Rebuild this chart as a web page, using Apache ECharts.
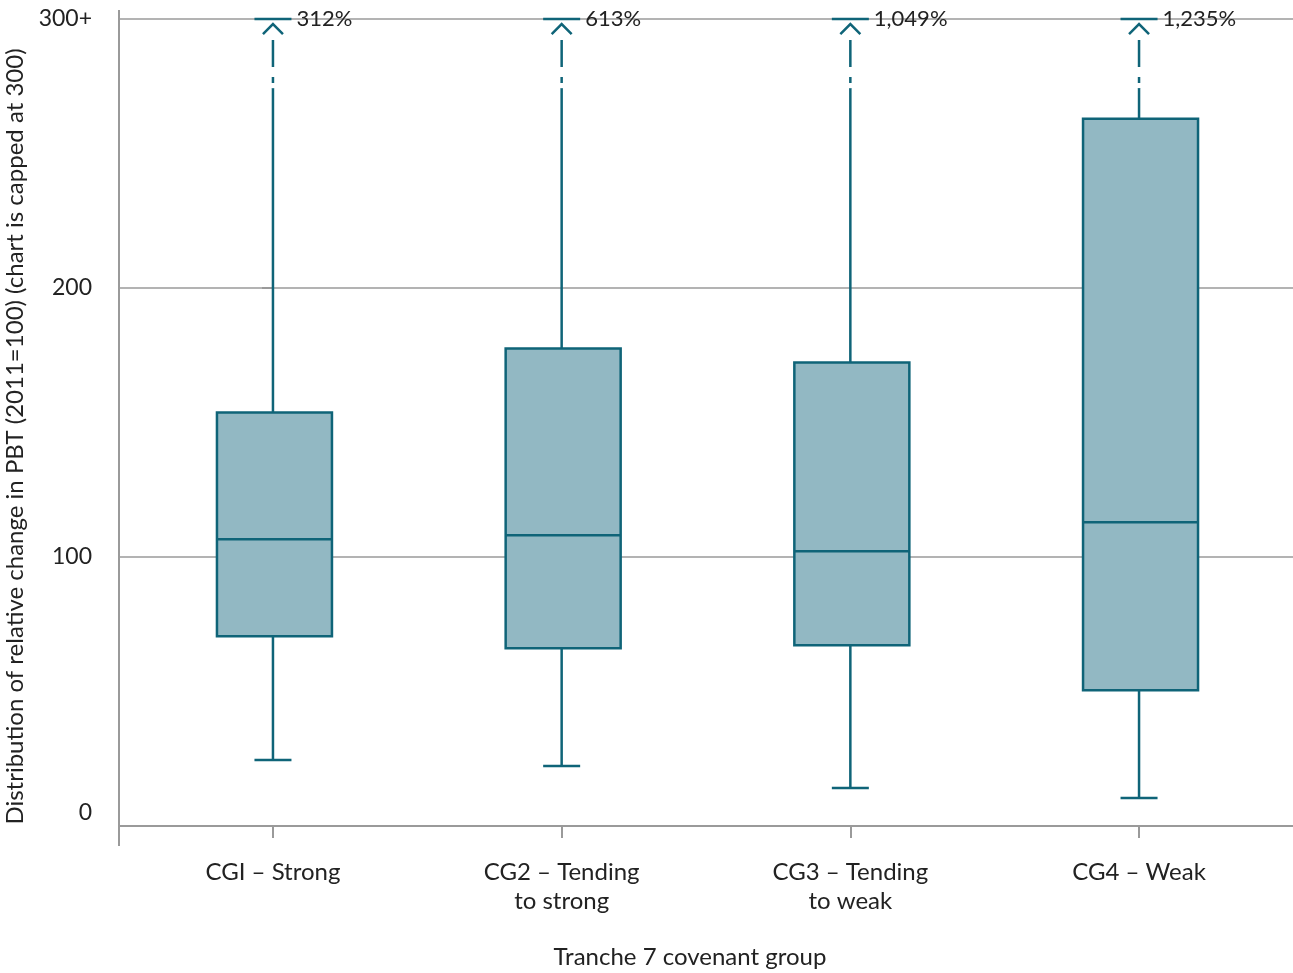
<!DOCTYPE html>
<html><head><meta charset="utf-8">
<script src="https://cdn.jsdelivr.net/npm/echarts@6/dist/echarts.min.js"></script>
<style>html,body{margin:0;padding:0;background:#fff}#c{width:1293px;height:973px}</style>
</head><body><div id="c"></div>
<script>
// ---- data ----
const categories = ['CGI – Strong', 'CG2 – Tending\nto strong', 'CG3 – Tending\nto weak', 'CG4 – Weak'];
const whiskerLow = [24.5, 22.3, 14.1, 10.4];
const q1 = [70.5, 66.1, 67.2, 50.5];
const median = [106.6, 108.1, 102.1, 112.9];
const q3 = [153.7, 177.5, 172.3, 262.9];
const solidWhiskerTop = [274.3, 274.3, 274.3, 274.3];
const dashedWhiskerTop = [292.2, 292.2, 292.2, 292.2];
const arrowBase = [294.4, 294.4, 294.4, 294.4];
const arrowTip = [298.1, 298.1, 298.1, 298.1];
const capValue = [300, 300, 300, 300];
const maxLabels = ['312%', '613%', '1,049%', '1,235%'];
const yTicks = [0, 100, 200, 300];
const yTickLabels = ['0', '100', '200', '300+'];
const xTicks = [0, 1, 2, 3];

// ---- styles ----
const FONT = 'Lato, "Noto Sans", sans-serif';
const TEXT = '#222';
const GRID = '#9a9a9a';
const STROKE = '#0f6478';
const FILL = '#92b8c3';
const xMin = -0.5333, xMax = 3.5333;

const seriesData = categories.map((c, i) => [i, whiskerLow[i], q1[i], median[i], q3[i],
  solidWhiskerTop[i], dashedWhiskerTop[i], arrowBase[i], arrowTip[i], capValue[i]]);

const chart = echarts.init(document.getElementById('c'));
const line = (x1, y1, x2, y2, extra) => ({
  type: 'line', shape: {x1, y1, x2, y2},
  style: Object.assign({stroke: STROKE, lineWidth: 2.5}, extra || {})
});

chart.setOption({
  animation: false,
  grid: {left: 119, right: 0, top: 19, bottom: 147, containLabel: false, outerBoundsMode: 'none'},
  xAxis: {
    type: 'value', min: xMin, max: xMax,
    splitLine: {show: false},
    axisLine: {show: true, onZero: false, lineStyle: {color: GRID, width: 2}},
    axisTick: {show: true, customValues: xTicks, length: 12, lineStyle: {color: GRID, width: 2}},
    axisLabel: {customValues: xTicks, formatter: v => categories[Math.round(v)],
      color: TEXT, fontFamily: FONT, fontSize: 24, lineHeight: 29, margin: 32},
    name: 'Tranche 7 covenant group', nameLocation: 'middle', nameGap: 119,
    nameTextStyle: {color: TEXT, fontFamily: FONT, fontSize: 24, padding: [0, 32, 0, 0]}
  },
  yAxis: {
    type: 'value', min: 0, max: 300, interval: 100,
    axisLine: {show: false},
    axisTick: {show: true, length: 11, lineStyle: {color: GRID, width: 2}},
    splitLine: {show: true, lineStyle: {color: GRID, width: 1.5}},
    axisLabel: {
      margin: 27, color: TEXT, fontFamily: FONT, fontSize: 23,
      formatter: v => { const s = yTickLabels[yTicks.indexOf(v)]; return v === 0 ? '{z|' + s + '}' : s; },
      rich: {z: {color: TEXT, fontFamily: FONT, fontSize: 23, padding: [0, 0, 26, 0]}}
    },
    name: 'Distribution of relative change in PBT (2011=100) (chart is capped at 300)',
    nameLocation: 'middle', nameGap: 86,
    nameTextStyle: {color: TEXT, fontFamily: FONT, fontSize: 24, padding: [0, 28, 0, 0]}
  },
  series: [{
    type: 'custom',
    clip: false,
    data: seriesData,
    encode: {x: 0, y: [1, 2, 3, 4, 9]},
    renderItem: (params, api) => {
      const i = api.value(0);
      const c = v => api.coord([i, v]);
      const cx = c(0)[0];
      const yLow = c(api.value(1))[1], yQ1 = c(api.value(2))[1], yMed = c(api.value(3))[1],
        yQ3 = c(api.value(4))[1], ySolid = c(api.value(5))[1], yDash = c(api.value(6))[1],
        yArrB = c(api.value(7))[1], yArrT = c(api.value(8))[1], yCap = c(api.value(9))[1];
      const hw = 57.5, capHw = 18.5, arrHw = 10, bx = cx + 1.5;
      return {
        type: 'group',
        children: [
          line(cx, yQ1, cx, yLow),
          line(cx - capHw, yLow, cx + capHw, yLow),
          line(cx, yQ3, cx, ySolid),
          line(cx, yDash, cx, ySolid, {lineDash: [27, 10, 6, 5]}),
          {type: 'polyline', shape: {points: [[cx - arrHw, yArrB], [cx, yArrT], [cx + arrHw, yArrB]]},
            style: {stroke: STROKE, lineWidth: 2.5, fill: null}},
          line(cx - capHw, yCap, cx + capHw, yCap),
          {type: 'rect', shape: {x: bx - hw, y: yQ3, width: hw * 2, height: yQ1 - yQ3},
            style: {fill: FILL, stroke: STROKE, lineWidth: 2.5}},
          line(bx - hw, yMed, bx + hw, yMed),
          {type: 'text', x: cx + capHw + 5, y: yCap,
            style: {text: maxLabels[i], fill: TEXT, font: '22px ' + FONT, verticalAlign: 'middle', align: 'left'}}
        ]
      };
    }
  }]
});

const p0 = chart.convertToPixel({gridIndex: 0}, [xMin, 0]);
const pTop = chart.convertToPixel({gridIndex: 0}, [xMin, 300]);
chart.setOption({
  graphic: [{type: 'line', shape: {x1: p0[0], y1: pTop[1] - 9, x2: p0[0], y2: p0[1] + 20},
    style: {stroke: GRID, lineWidth: 2}, z: 10}]
});
</script>
</body></html>
